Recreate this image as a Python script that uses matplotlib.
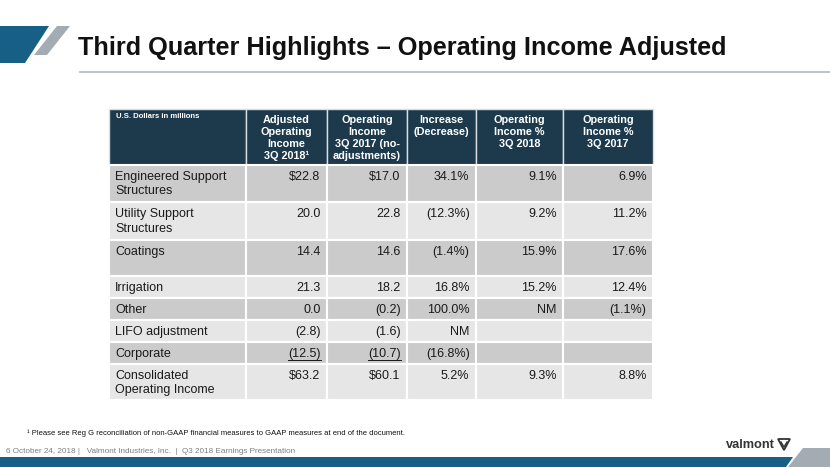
import matplotlib
matplotlib.use("Agg")
import matplotlib.pyplot as plt
from matplotlib.patches import Polygon, Rectangle

SANS = ['Liberation Sans', 'DejaVu Sans']

# ---------------- data ----------------
title = "Third Quarter Highlights \u2013 Operating Income Adjusted"
unit_label = "U.S. Dollars in millions"
col_headers = ["Adjusted\nOperating\nIncome\n3Q 2018\u00b9",
               "Operating\nIncome\n3Q 2017 (no-\nadjustments)",
               "Increase\n(Decrease)",
               "Operating\nIncome %\n3Q 2018",
               "Operating\nIncome %\n3Q 2017"]
row_labels = ["Engineered Support\nStructures", "Utility Support\nStructures", "Coatings",
              "Irrigation", "Other", "LIFO adjustment", "Corporate",
              "Consolidated\nOperating Income"]
adj_oi_2018 = ["$22.8", "20.0", "14.4", "21.3", "0.0", "(2.8)", "(12.5)", "$63.2"]
oi_2017 = ["$17.0", "22.8", "14.6", "18.2", "(0.2)", "(1.6)", "(10.7)", "$60.1"]
change = ["34.1%", "(12.3%)", "(1.4%)", "16.8%", "100.0%", "NM", "(16.8%)", "5.2%"]
pct_2018 = ["9.1%", "9.2%", "15.9%", "15.2%", "NM", "", "", "9.3%"]
pct_2017 = ["6.9%", "11.2%", "17.6%", "12.4%", "(1.1%)", "", "", "8.8%"]
underlined_row = "Corporate"
footnote = "\u00b9 Please see Reg G reconciliation of non-GAAP financial measures to GAAP measures at end of the document."
footer = "6 October 24, 2018 |   Valmont Industries, Inc.  |  Q3 2018 Earnings Presentation"

# ---------------- layout (pixels) ----------------
W, H = 830, 467
col_edges = [109, 246, 327, 407, 476, 563, 653]
header_top, header_bot = 109, 165
row_edges = [165, 202, 240, 276, 298, 320, 342, 364, 400]

HEADER_C = "#1d3a4c"
DARK_ROW = "#cbcbcb"
LIGHT_ROW = "#e6e6e6"
BLUE = "#175f84"
GRAY = "#a4acb3"
TXT = "#1a1a1a"

fig = plt.figure(figsize=(W / 100, H / 100), dpi=100)
ax = fig.add_axes([0, 0, 1, 1])
ax.set_xlim(0, W)
ax.set_ylim(H, 0)
ax.axis("off")

# decorations
ax.add_patch(Polygon([(0, 26), (49, 26), (25, 63), (0, 63)], closed=True, fc=BLUE, ec="none"))
ax.add_patch(Polygon([(57, 26), (70, 26), (47, 55), (34, 55)], closed=True, fc=GRAY, ec="none"))
ax.plot([79, W], [71.5, 71.5], color="#b6bec6", lw=1.3, solid_capstyle="butt")
ax.text(78, 55.5, title, fontsize=18.2, fontweight="bold", family=SANS, color="#111111",
        va="baseline", ha="left")

# bottom band
ax.add_patch(Polygon([(0, 457), (793, 457), (786, 467), (0, 467)], closed=True, fc=BLUE, ec="none"))
ax.add_patch(Polygon([(803, 448), (W, 448), (W, 467), (788, 467)], closed=True, fc=GRAY, ec="none"))

# table header
for i in range(len(col_edges) - 1):
    x0, x1 = col_edges[i], col_edges[i + 1]
    ax.add_patch(Rectangle((x0, header_top), x1 - x0, header_bot - header_top,
                           fc=HEADER_C, ec="#d8dde0", lw=1.0))
ax.text(116, 117, unit_label, fontsize=5.6, fontweight="bold", color="white",
        family=SANS, va="center", ha="left")
for i, h in enumerate(col_headers):
    cx = (col_edges[i + 1] + col_edges[i + 2]) / 2
    for j, line in enumerate(h.split("\n")):
        ax.text(cx, 120 + j * 12.1, line, fontsize=7.8, fontweight="bold", color="white",
                family=SANS, va="center", ha="center")

# table body
values = [adj_oi_2018, oi_2017, change, pct_2018, pct_2017]
for r, label in enumerate(row_labels):
    y0, y1 = row_edges[r], row_edges[r + 1]
    fc = DARK_ROW if r % 2 == 0 else LIGHT_ROW
    fs = 9.0
    for i in range(len(col_edges) - 1):
        x0, x1 = col_edges[i], col_edges[i + 1]
        ax.add_patch(Rectangle((x0, y0), x1 - x0, y1 - y0, fc=fc, ec="white", lw=1.5))
    for j, line in enumerate(label.split("\n")):
        ax.text(115, y0 + 12 + j * 14.5, line, fontsize=fs, family=SANS, color=TXT,
                va="center", ha="left")
    for c, col in enumerate(values):
        txt = col[r]
        if not txt:
            continue
        xr = col_edges[c + 2] - 6.5
        t = ax.text(xr, y0 + 12, txt, fontsize=fs, family=SANS, color=TXT,
                    va="center", ha="right")
        if label == underlined_row and c < 2:
            fig.canvas.draw()
            bb = t.get_window_extent().transformed(ax.transData.inverted())
            ax.plot([bb.x0, bb.x1], [y0 + 17.5, y0 + 17.5], color=TXT, lw=0.7)

# footnote and footer
ax.text(27, 433, footnote, fontsize=5.5, family=SANS, color="#111111", va="center", ha="left")
ax.text(6, 451.5, footer, fontsize=5.9, family=SANS, color="#7f7f7f", va="center", ha="left")

# logo
ax.text(775, 445, "valmont", fontsize=9.2, fontweight="bold", family=SANS, color="#333333",
        va="center", ha="right")
ax.add_patch(Polygon([(778, 439), (790, 439), (784, 450)], closed=True, fc="white",
                     ec="#333333", lw=1.3))
ax.plot([781, 784, 787], [442, 447, 442], color="#333333", lw=1.0)

fig.savefig("out.png", dpi=100)
